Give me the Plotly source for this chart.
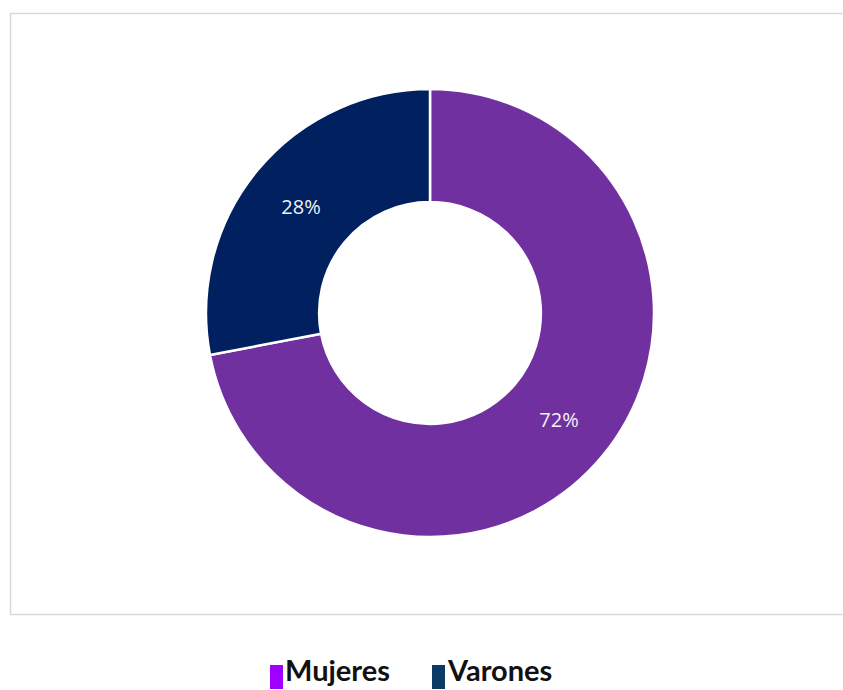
import plotly.graph_objects as go

labels = ["Mujeres", "Varones"]
values = [72, 28]
slice_colors = ["#7030A0", "#002060"]
legend_colors = ["#A000FF", "#0A3A66"]

W, H = 843, 690

fig = go.Figure()
fig.add_trace(go.Pie(
    labels=labels,
    values=values,
    hole=0.495,
    sort=False,
    direction="clockwise",
    rotation=0,
    marker=dict(colors=slice_colors, line=dict(color="white", width=2.5)),
    textinfo="percent",
    texttemplate="%{percent:.0%}",
    textposition="inside",
    insidetextorientation="horizontal",
    textfont=dict(family="Open Sans", size=20, color="#F2F2F2"),
    showlegend=False,
    domain=dict(x=[206 / W, 654 / W], y=[(H - 537) / H, (H - 89) / H]),
    hoverinfo="label+percent",
))

# border box
fig.add_shape(type="rect", xref="paper", yref="paper",
              x0=10.5 / W, x1=(W + 5) / W, y0=(H - 614.5) / H, y1=(H - 13.5) / H,
              line=dict(color="#D9D9D9", width=1.5), fillcolor="rgba(0,0,0,0)", layer="below")

# custom legend
legend_x = [270, 432]
for i, lab in enumerate(labels):
    x0 = legend_x[i]
    fig.add_shape(type="rect", xref="paper", yref="paper",
                  x0=x0 / W, x1=(x0 + 13) / W, y0=(H - 689) / H, y1=(H - 665) / H,
                  line=dict(width=0), fillcolor=legend_colors[i])
    fig.add_annotation(x=(x0 + 14) / W, y=(H - 669) / H, xref="paper", yref="paper",
                       xanchor="left", yanchor="middle", showarrow=False,
                       borderpad=0,
                       text="<b>" + lab + "</b>",
                       font=dict(family="Lato", size=29, color="#111111"))

fig.update_layout(
    width=W, height=H,
    margin=dict(l=0, r=0, t=0, b=0),
    paper_bgcolor="white",
    plot_bgcolor="white",
)

fig.write_html("out.html",
               config={"displayModeBar": False},
               post_script="document.body.style.margin='0';document.body.style.overflow='hidden';")
